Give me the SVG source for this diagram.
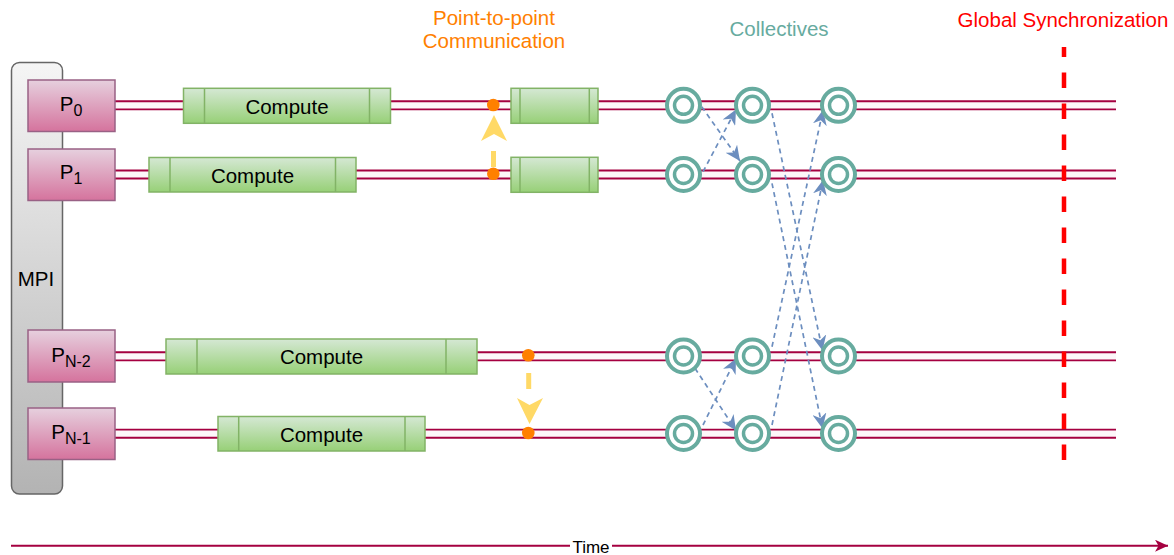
<svg xmlns="http://www.w3.org/2000/svg" width="1174" height="555" viewBox="0 0 1174 555">
  <defs>
    <linearGradient id="gPink" x1="0" y1="0" x2="0" y2="1">
      <stop offset="0" stop-color="#e6d0de"/>
      <stop offset="1" stop-color="#d5739d"/>
    </linearGradient>
    <linearGradient id="gGreen" x1="0" y1="0" x2="0" y2="1">
      <stop offset="0" stop-color="#d5e8d4"/>
      <stop offset="1" stop-color="#97d077"/>
    </linearGradient>
    <linearGradient id="gGrey" x1="0" y1="0" x2="0" y2="1">
      <stop offset="0" stop-color="#f5f5f5"/>
      <stop offset="1" stop-color="#b3b3b3"/>
    </linearGradient>
    <marker id="mBlue" markerUnits="userSpaceOnUse" markerWidth="16" markerHeight="14" viewBox="0 0 16 14" refX="15" refY="7" orient="auto">
      <path d="M0,0 L15,7 L0,14 L4.5,7 Z" fill="#6c8ebf" stroke="none"/>
    </marker>
    <marker id="mTime" markerUnits="userSpaceOnUse" markerWidth="14" markerHeight="12" viewBox="0 0 14 12" refX="13" refY="6" orient="auto">
      <path d="M0,0 L13,6 L0,12 L3.5,6 Z" fill="#a50040" stroke="none"/>
    </marker>
    <style>
      text { font-family: "Liberation Sans", Arial, Helvetica, sans-serif; }
      .proc { fill: url(#gPink); stroke: #996185; stroke-width: 1.5; }
      .comp { fill: url(#gGreen); stroke: #82b366; stroke-width: 1.5; }
      .compLine { stroke: #82b366; stroke-width: 1.5; }
      .lbl { font-size: 20.5px; fill: #000; text-anchor: middle; }
      .tlOut { stroke: #a50040; stroke-width: 10; fill: none; }
      .tlIn { stroke: #fdf6f9; stroke-width: 6.2; fill: none; }
      .ring { fill: #ffffff; stroke: #67ab9f; stroke-width: 4; }
      .ringIn { fill: none; stroke: #67ab9f; stroke-width: 3.5; }
      .dot { fill: #ff8000; stroke: none; }
      .blue { stroke: #6c8ebf; stroke-width: 1.7; stroke-dasharray: 5 4; fill: none; marker-end: url(#mBlue); }
      .yel { stroke: #ffd966; stroke-width: 5; fill: none; }
      .yelHead { fill: #ffd966; stroke: none; }
    </style>
  </defs>

  <rect width="1174" height="555" fill="#ffffff"/>

  <!-- MPI bar -->
  <g id="mpi">
    <rect x="11.5" y="62.5" width="51" height="431.5" rx="8" ry="8" fill="url(#gGrey)" stroke="#666666" stroke-width="1.5"/>
    <text class="lbl" x="36" y="286">MPI</text>
  </g>

  <!-- Timelines -->
  <g id="timelines">
    <line class="tlOut" x1="115" y1="105.3" x2="1116" y2="105.3"/>
    <line class="tlIn" x1="115" y1="105.3" x2="1116" y2="105.3"/>
    <line class="tlOut" x1="115" y1="174.5" x2="1116" y2="174.5"/>
    <line class="tlIn" x1="115" y1="174.5" x2="1116" y2="174.5"/>
    <line class="tlOut" x1="115" y1="356.3" x2="1116" y2="356.3"/>
    <line class="tlIn" x1="115" y1="356.3" x2="1116" y2="356.3"/>
    <line class="tlOut" x1="115" y1="433.7" x2="1116" y2="433.7"/>
    <line class="tlIn" x1="115" y1="433.7" x2="1116" y2="433.7"/>
  </g>

  <!-- Global synchronization line -->
  <g id="global-sync">
    <line x1="1064" y1="460" x2="1064" y2="47" stroke="#ff0000" stroke-width="4.5" stroke-dasharray="15.5 15.5"/>
    <text x="1063" y="27" font-size="20.5" fill="#ff0000" text-anchor="middle">Global Synchronization</text>
  </g>

  <!-- Process nodes -->
  <g id="p0">
    <rect class="proc" x="28" y="80" width="87" height="51.5"/>
    <text class="lbl" x="71" y="110.5">P<tspan font-size="16" dy="5">0</tspan></text>
  </g>
  <g id="p1">
    <rect class="proc" x="28" y="149" width="87" height="51.5"/>
    <text class="lbl" x="71" y="179">P<tspan font-size="16" dy="5">1</tspan></text>
  </g>
  <g id="pn2">
    <rect class="proc" x="28" y="330" width="87" height="52"/>
    <text class="lbl" x="71" y="361.5">P<tspan font-size="16" dy="5">N-2</tspan></text>
  </g>
  <g id="pn1">
    <rect class="proc" x="28" y="408" width="87" height="51.5"/>
    <text class="lbl" x="71" y="438.5">P<tspan font-size="16" dy="5">N-1</tspan></text>
  </g>

  <!-- Compute nodes -->
  <g id="compute-p0">
    <rect class="comp" x="183.5" y="88.3" width="207" height="35"/>
    <line class="compLine" x1="204.5" y1="88.3" x2="204.5" y2="123.3"/>
    <line class="compLine" x1="369.5" y1="88.3" x2="369.5" y2="123.3"/>
    <text class="lbl" x="287" y="113.5">Compute</text>
  </g>
  <g id="compute-p1">
    <rect class="comp" x="149" y="157.5" width="207" height="34.5"/>
    <line class="compLine" x1="170" y1="157.5" x2="170" y2="192"/>
    <line class="compLine" x1="335.5" y1="157.5" x2="335.5" y2="192"/>
    <text class="lbl" x="252.5" y="182.5">Compute</text>
  </g>
  <g id="compute-pn2">
    <rect class="comp" x="166" y="339" width="311" height="35"/>
    <line class="compLine" x1="197" y1="339" x2="197" y2="374"/>
    <line class="compLine" x1="446" y1="339" x2="446" y2="374"/>
    <text class="lbl" x="321.5" y="364">Compute</text>
  </g>
  <g id="compute-pn1">
    <rect class="comp" x="218" y="416.5" width="207" height="34.5"/>
    <line class="compLine" x1="238.7" y1="416.5" x2="238.7" y2="451"/>
    <line class="compLine" x1="405" y1="416.5" x2="405" y2="451"/>
    <text class="lbl" x="321.5" y="441.5">Compute</text>
  </g>
  <g id="compute-p0-b">
    <rect class="comp" x="511" y="88.3" width="87" height="35"/>
    <line class="compLine" x1="520" y1="88.3" x2="520" y2="123.3"/>
    <line class="compLine" x1="589.3" y1="88.3" x2="589.3" y2="123.3"/>
  </g>
  <g id="compute-p1-b">
    <rect class="comp" x="511" y="157.3" width="87" height="35"/>
    <line class="compLine" x1="520" y1="157.3" x2="520" y2="192.3"/>
    <line class="compLine" x1="589.3" y1="157.3" x2="589.3" y2="192.3"/>
  </g>

  <!-- Point-to-point label -->
  <g id="p2p-label">
    <text x="494" y="25" font-size="20.5" fill="#ff8000" text-anchor="middle">Point-to-point</text>
    <text x="494" y="48.3" font-size="20.5" fill="#ff8000" text-anchor="middle">Communication</text>
  </g>

  <!-- Collectives label -->
  <g id="collectives-label">
    <text x="779" y="36" font-size="20.5" fill="#67ab9f" text-anchor="middle">Collectives</text>
  </g>

  <!-- Connectors -->
  <g id="connectors">
    <!-- point-to-point yellow arrows -->
    <line class="yel" x1="493.5" y1="167" x2="493.5" y2="151"/>
    <path class="yelHead" d="M494,115 L507,141 L494,134 L481,141 Z"/>
    <line class="yel" x1="528.7" y1="373" x2="528.7" y2="389"/>
    <path class="yelHead" d="M529.5,424 L543,398 L529.5,405 L517,398 Z"/>
    <!-- collective arrows stage 1 -->
    <line class="blue" x1="701.7" y1="106.7" x2="740" y2="161"/>
    <line class="blue" x1="703" y1="171.7" x2="736" y2="109.5"/>
    <line class="blue" x1="695" y1="368.3" x2="736" y2="430.5"/>
    <line class="blue" x1="703" y1="425" x2="736" y2="358.5"/>
    <!-- collective arrows stage 2 -->
    <line class="blue" x1="772" y1="113.3" x2="822.5" y2="350.5"/>
    <line class="blue" x1="772" y1="183.3" x2="822.5" y2="428.5"/>
    <line class="blue" x1="772" y1="346.7" x2="823" y2="110"/>
    <line class="blue" x1="772" y1="425" x2="823" y2="180"/>
    <!-- time arrow -->
    <line x1="11" y1="545.7" x2="1168" y2="545.7" stroke="#a50040" stroke-width="2" marker-end="url(#mTime)"/>
  </g>

  <!-- Point-to-point dots -->
  <g id="p2p-dots">
    <circle class="dot" cx="493.3" cy="105" r="6.3"/>
    <circle class="dot" cx="493.3" cy="173.8" r="6.3"/>
    <circle class="dot" cx="528.3" cy="355.2" r="6.3"/>
    <circle class="dot" cx="528.3" cy="433" r="6.3"/>
  </g>

  <!-- Collective circles -->
  <g id="c-r0-1"><circle class="ring" cx="683.5" cy="105.3" r="16.5"/><circle class="ringIn" cx="683.5" cy="105.3" r="9"/></g>
  <g id="c-r0-2"><circle class="ring" cx="752.5" cy="105.3" r="16.5"/><circle class="ringIn" cx="752.5" cy="105.3" r="9"/></g>
  <g id="c-r0-3"><circle class="ring" cx="838.5" cy="105.3" r="16.5"/><circle class="ringIn" cx="838.5" cy="105.3" r="9"/></g>
  <g id="c-r1-1"><circle class="ring" cx="683.5" cy="174.5" r="16.5"/><circle class="ringIn" cx="683.5" cy="174.5" r="9"/></g>
  <g id="c-r1-2"><circle class="ring" cx="752.5" cy="174.5" r="16.5"/><circle class="ringIn" cx="752.5" cy="174.5" r="9"/></g>
  <g id="c-r1-3"><circle class="ring" cx="838.5" cy="174.5" r="16.5"/><circle class="ringIn" cx="838.5" cy="174.5" r="9"/></g>
  <g id="c-r2-1"><circle class="ring" cx="683.5" cy="356" r="16.5"/><circle class="ringIn" cx="683.5" cy="356" r="9"/></g>
  <g id="c-r2-2"><circle class="ring" cx="752.5" cy="356" r="16.5"/><circle class="ringIn" cx="752.5" cy="356" r="9"/></g>
  <g id="c-r2-3"><circle class="ring" cx="838.5" cy="356" r="16.5"/><circle class="ringIn" cx="838.5" cy="356" r="9"/></g>
  <g id="c-r3-1"><circle class="ring" cx="683.5" cy="433.5" r="16.5"/><circle class="ringIn" cx="683.5" cy="433.5" r="9"/></g>
  <g id="c-r3-2"><circle class="ring" cx="752.5" cy="433.5" r="16.5"/><circle class="ringIn" cx="752.5" cy="433.5" r="9"/></g>
  <g id="c-r3-3"><circle class="ring" cx="838.5" cy="433.5" r="16.5"/><circle class="ringIn" cx="838.5" cy="433.5" r="9"/></g>

  <!-- Time label -->
  <g id="time-label">
    <rect x="570" y="538" width="42" height="16" fill="#ffffff"/>
    <text x="591" y="553" font-size="17" fill="#000000" text-anchor="middle">Time</text>
  </g>
</svg>
